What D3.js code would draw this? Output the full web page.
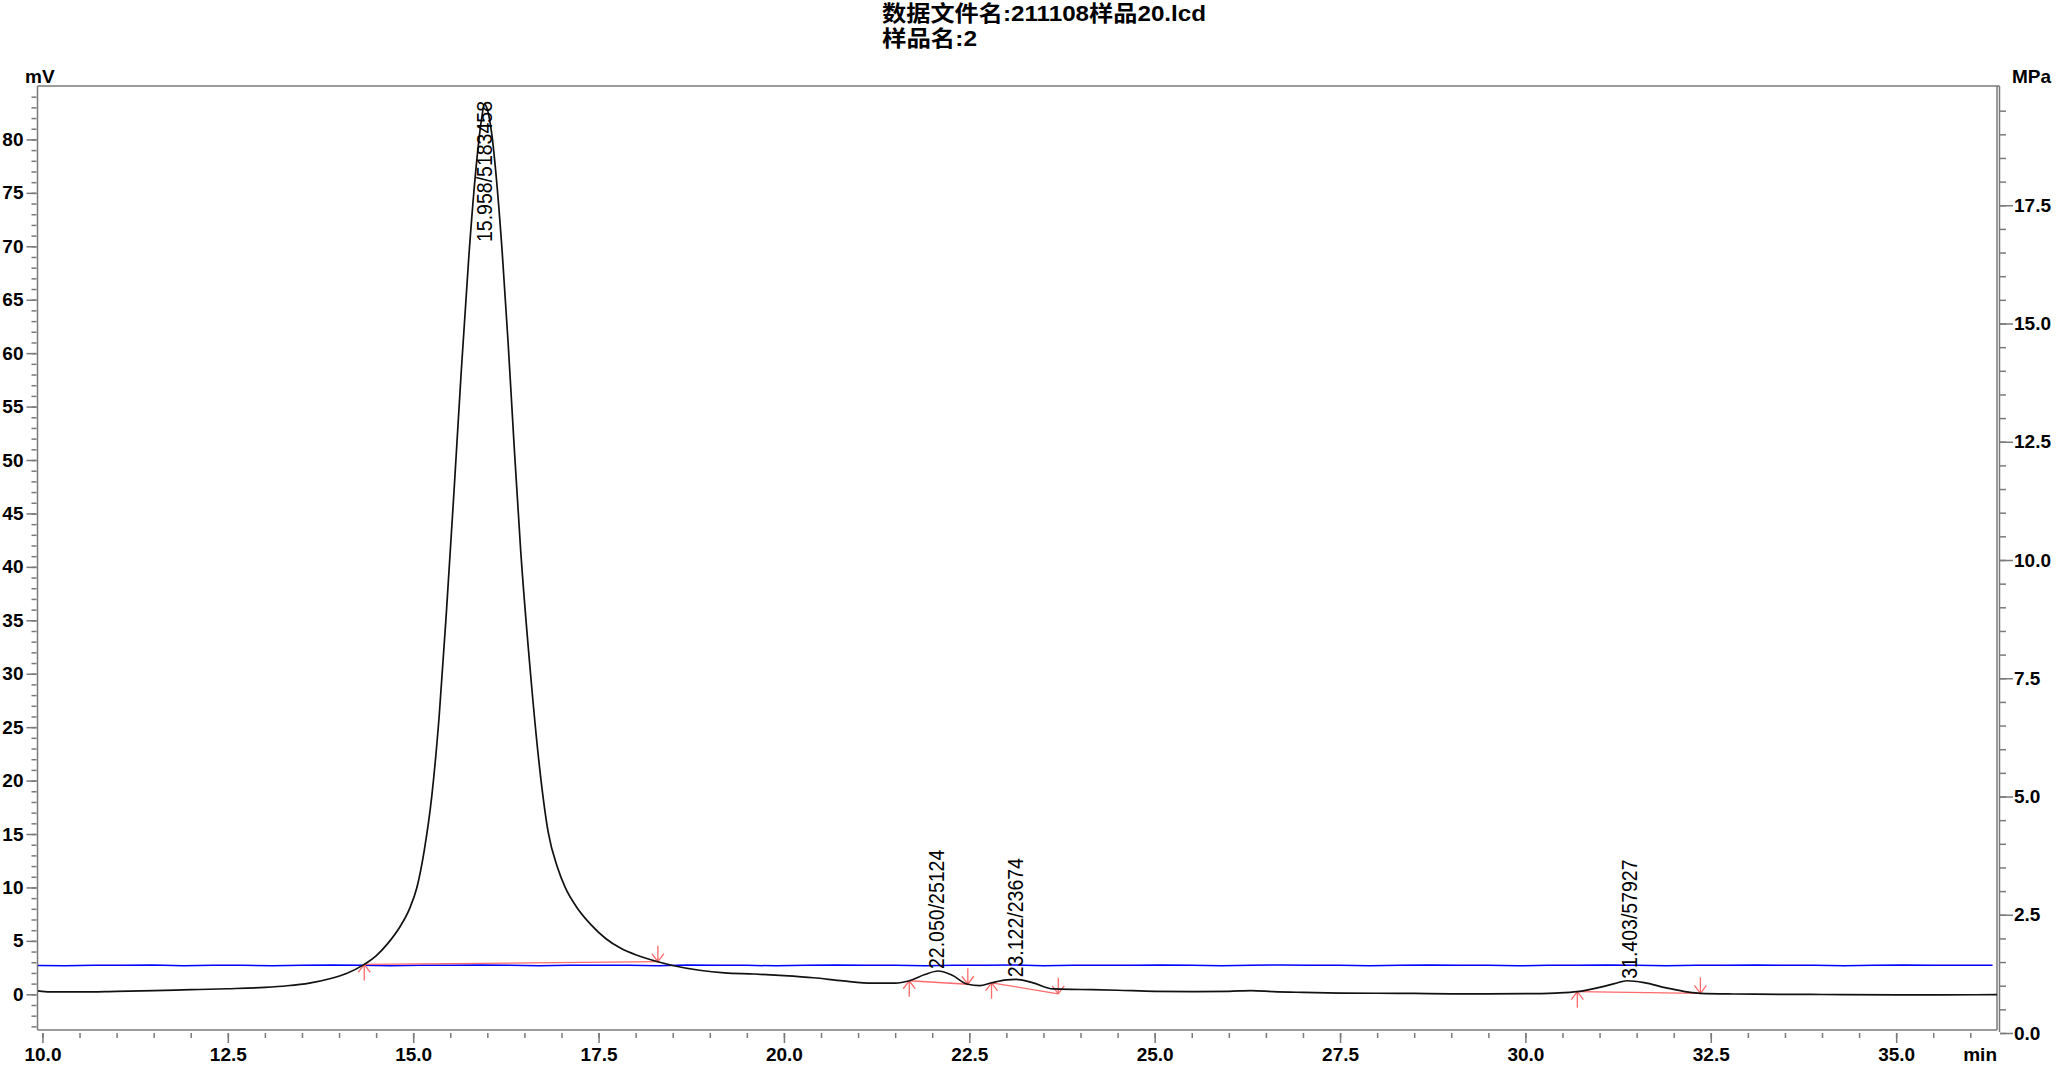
<!DOCTYPE html>
<html>
<head>
<meta charset="utf-8">
<script src="https://cdn.jsdelivr.net/npm/d3@7"></script>
<style>
  html, body { margin: 0; padding: 0; background: #fff; }
  svg { display: block; }
  text { font-family: "Liberation Sans", Arial, "Noto Sans CJK SC", sans-serif; }
</style>
</head>
<body>
<script>
// ---------------- DATA ----------------
const titleLines = ["数据文件名:211108样品20.lcd", "样品名:2"];

// detector signal (min, mV)
const chromTime = [9.94,10.1,10.5,11.0,11.5,12.0,12.5,13.0,13.3,13.6,13.9,14.1,14.34,14.5,14.65,14.82,14.95,15.05,15.15,15.25,15.35,15.45,15.55,15.65,15.75,15.85,15.92,15.96,16.0,16.06,16.12,16.2,16.28,16.36,16.45,16.57,16.7,16.82,16.95,17.05,17.2,17.4,17.6,17.8,18.0,18.15,18.3,18.5,18.86,19.2,19.6,20.0,20.4,20.8,21.2,21.5,21.69,21.9,22.08,22.25,22.48,22.64,22.8,23.0,23.13,23.35,23.63,24.0,24.5,25.0,25.5,26.0,26.3,26.6,27.0,27.5,28.0,28.5,29.0,29.5,30.0,30.4,30.7,31.0,31.2,31.37,31.6,31.9,32.2,32.36,32.8,33.5,34.0,35.0,35.6,36.36];
const chromMV   = [0.33,0.22,0.22,0.28,0.35,0.43,0.52,0.65,0.8,1.05,1.5,1.95,2.8,3.6,4.7,6.3,8.0,10.0,13.5,18.5,26,36,47,58.5,69,77.5,81.8,83.3,82.8,80.5,76.5,69.5,61,51.5,41.5,31,21.5,15.2,11.8,10.0,8.2,6.5,5.2,4.3,3.7,3.35,3.05,2.7,2.25,2.0,1.9,1.75,1.55,1.25,1.05,1.05,1.27,1.85,2.18,1.85,0.94,0.82,1.08,1.35,1.40,1.1,0.5,0.45,0.38,0.28,0.26,0.28,0.35,0.25,0.18,0.12,0.1,0.08,0.05,0.05,0.06,0.12,0.25,0.65,1.0,1.27,1.1,0.6,0.2,0.09,0.03,0.0,-0.02,-0.05,-0.05,-0.03];

// pump pressure (min, MPa)
const pressTime = [9.9,10.3,10.7,11.1,11.5,11.9,12.3,12.7,13.1,13.5,13.9,14.3,14.7,15.1,15.5,15.9,16.3,16.7,17.1,17.5,17.9,18.3,18.7,19.1,19.5,19.9,20.3,20.7,21.1,21.5,21.9,22.3,22.7,23.1,23.5,23.9,24.3,24.7,25.1,25.5,25.9,26.3,26.7,27.1,27.5,27.9,28.3,28.7,29.1,29.5,29.9,30.3,30.7,31.1,31.5,31.9,32.3,32.7,33.1,33.5,33.9,34.3,34.7,35.1,35.5,35.9,36.3];
const pressMPa  = [1.43,1.42,1.43,1.43,1.44,1.42,1.43,1.43,1.42,1.43,1.44,1.43,1.42,1.43,1.43,1.44,1.43,1.42,1.43,1.43,1.43,1.42,1.44,1.43,1.43,1.42,1.43,1.44,1.43,1.43,1.42,1.43,1.43,1.44,1.42,1.43,1.43,1.43,1.44,1.43,1.42,1.43,1.44,1.43,1.43,1.42,1.43,1.44,1.43,1.43,1.42,1.43,1.43,1.44,1.43,1.42,1.43,1.43,1.44,1.43,1.43,1.42,1.43,1.44,1.43,1.43,1.43];

// peaks
const peakLabels  = ["15.958/5183458", "22.050/25124", "23.122/23674", "31.403/57927"];
const peakTimes   = [15.958, 22.050, 23.122, 31.403];
const peakApexMV  = [83.3, 2.18, 1.40, 1.27];
const baseStartT  = [14.34, 21.69, 22.80, 30.70];
const baseStartMV = [2.8, 1.27, 1.08, 0.25];
const baseEndT    = [18.30, 22.48, 23.70, 32.36];
const baseEndMV   = [3.05, 0.94, 0.05, 0.09];

// ticks
const xMajorTicks = [10.0,12.5,15.0,17.5,20.0,22.5,25.0,27.5,30.0,32.5,35.0];
const yMajorTicks = [0,5,10,15,20,25,30,35,40,45,50,55,60,65,70,75,80];
const pMajorTicks = [0.0,2.5,5.0,7.5,10.0,12.5,15.0,17.5];

// ---------------- LAYOUT ----------------
const W = 2056, H = 1066;
const L = 38, R = 1997, T = 86, B = 1030;
const axisColor = "#7a7a7a";
const labelFont = 19;

const svg = d3.select("body").append("svg").attr("width", W).attr("height", H);
svg.append("rect").attr("width", W).attr("height", H).attr("fill", "#fff");

const x = d3.scaleLinear().domain([9.94, 36.36]).range([L, R]);
const y = d3.scaleLinear().domain([-3.34, 85]).range([B, T]);
const yp = d3.scaleLinear().domain([0, 20]).range([1033, 87]);

svg.append("clipPath").attr("id", "clip")
  .append("rect").attr("x", L).attr("y", T).attr("width", R - L).attr("height", B - T);

// title
const title = svg.append("g").attr("font-weight", "bold").attr("font-size", 21.5).attr("fill", "#000");
title.append("text").attr("x", 882).attr("y", 20.5).attr("textLength", 324).attr("lengthAdjust", "spacingAndGlyphs").text(titleLines[0]);
title.append("text").attr("x", 882).attr("y", 45.5).attr("textLength", 95).attr("lengthAdjust", "spacingAndGlyphs").text(titleLines[1]);

// frame
const frame = svg.append("g").attr("stroke", axisColor).attr("stroke-width", 1.5).attr("fill", "none");
frame.append("line").attr("x1", L - 0.5).attr("x2", L - 0.5).attr("y1", T).attr("y2", B);
frame.append("line").attr("x1", L - 0.5).attr("x2", R + 2.5).attr("y1", T).attr("y2", T);
frame.append("line").attr("x1", L - 0.5).attr("x2", R).attr("y1", B).attr("y2", B);
frame.append("line").attr("x1", R).attr("x2", R).attr("y1", T).attr("y2", B);
frame.append("line").attr("x1", R + 2.5).attr("x2", R + 2.5).attr("y1", T).attr("y2", 1032);

function styleAxis(g) {
  g.select(".domain").remove();
  g.selectAll("line").attr("stroke", axisColor).attr("stroke-width", 1.5);
  g.selectAll("text").attr("font-size", labelFont).attr("font-weight", "bold")
    .attr("fill", "#000").attr("font-family", "Liberation Sans, Arial, sans-serif");
}

// x axis
const xMinor = d3.range(10, 36.01, 0.5);
const xAx = svg.append("g").attr("transform", `translate(0,${B + 3})`)
  .call(d3.axisBottom(x).tickValues(xMinor).tickSize(5).tickFormat(""));
const xAxMaj = svg.append("g").attr("transform", `translate(0,${B + 3})`)
  .call(d3.axisBottom(x).tickValues(xMajorTicks).tickSize(10).tickPadding(0).tickFormat(d3.format(".1f")));
styleAxis(xAx); styleAxis(xAxMaj);
xAxMaj.selectAll("text").attr("dy", null).attr("y", 1061 - (B + 3));
svg.append("text").attr("x", R).attr("y", 1061).attr("text-anchor", "end")
  .attr("font-size", labelFont).attr("font-weight", "bold").text("min");

// left axis
const yMinor = d3.range(-3, 84.01, 1);
const yAx = svg.append("g").attr("transform", `translate(${L - 1.5},0)`)
  .call(d3.axisLeft(y).tickValues(yMinor).tickSize(5).tickFormat(""));
const yAxMaj = svg.append("g").attr("transform", `translate(${L - 1.5},0)`)
  .call(d3.axisLeft(y).tickValues(yMajorTicks).tickSize(10).tickPadding(3).tickFormat(d3.format("d")));
styleAxis(yAx); styleAxis(yAxMaj);
svg.append("text").attr("x", 25).attr("y", 83).attr("font-size", labelFont).attr("font-weight", "bold").text("mV");

// right axis
const pMinor = d3.range(0, 19.76, 0.5);
const pAx = svg.append("g").attr("transform", `translate(${R + 3},0)`)
  .call(d3.axisRight(yp).tickValues(pMinor).tickSize(6).tickFormat(""));
const pAxMaj = svg.append("g").attr("transform", `translate(${R + 3},0)`)
  .call(d3.axisRight(yp).tickValues(pMajorTicks).tickSize(13).tickPadding(1).tickFormat(d3.format(".1f")));
styleAxis(pAx); styleAxis(pAxMaj);
svg.append("text").attr("x", 2012).attr("y", 83).attr("font-size", labelFont).attr("font-weight", "bold").text("MPa");

// plot layer
const plot = svg.append("g").attr("clip-path", "url(#clip)");

// pressure (blue)
const press = pressTime.map((t, i) => [t, pressMPa[i]]);
plot.append("path").datum(press)
  .attr("fill", "none").attr("stroke", "#0000ff").attr("stroke-width", 1.5)
  .attr("d", d3.line().x(d => x(d[0])).y(d => yp(d[1])));

// integration baselines (red)
const red = "#ff6a6a";
const rg = plot.append("g").attr("stroke", red).attr("stroke-width", 1.3).attr("fill", "none");
peakTimes.forEach((_, i) => {
  const x1 = x(baseStartT[i]), y1 = y(baseStartMV[i]);
  const x2 = x(baseEndT[i]), y2 = y(baseEndMV[i]);
  rg.append("line").attr("x1", x1).attr("y1", y1).attr("x2", x2).attr("y2", y2);
  rg.append("path").attr("d", `M${x1},${y1}L${x1},${y1 + 16}M${x1 - 6},${y1 + 8}L${x1},${y1}L${x1 + 6},${y1 + 8}`);
  rg.append("path").attr("d", `M${x2},${y2}L${x2},${y2 - 16}M${x2 - 6},${y2 - 8}L${x2},${y2}L${x2 + 6},${y2 - 8}`);
});

// chromatogram (black)
const chrom = chromTime.map((t, i) => [t, chromMV[i]]);
plot.append("path").datum(chrom)
  .attr("fill", "none").attr("stroke", "#111").attr("stroke-width", 1.7)
  .attr("d", d3.line().curve(d3.curveMonotoneX).x(d => x(d[0])).y(d => y(d[1])));

// peak labels (condensed: taller glyphs at the same run length)
const lab = svg.append("g").attr("fill", "#000");
peakLabels.forEach((s, i) => {
  const t = lab.append("text").attr("font-size", 19.5).attr("text-anchor", "start").text(s);
  const len = t.node().getComputedTextLength();
  t.attr("font-size", 22.5).attr("textLength", len).attr("lengthAdjust", "spacingAndGlyphs").attr("dy", "0.35em");
  let bottom = y(peakApexMV[i]) - 2;
  if (bottom - len < T + 15) bottom = T + 15 + len;
  t.attr("transform", `translate(${x(peakTimes[i])},${bottom}) rotate(-90)`);
});
</script>
</body>
</html>
